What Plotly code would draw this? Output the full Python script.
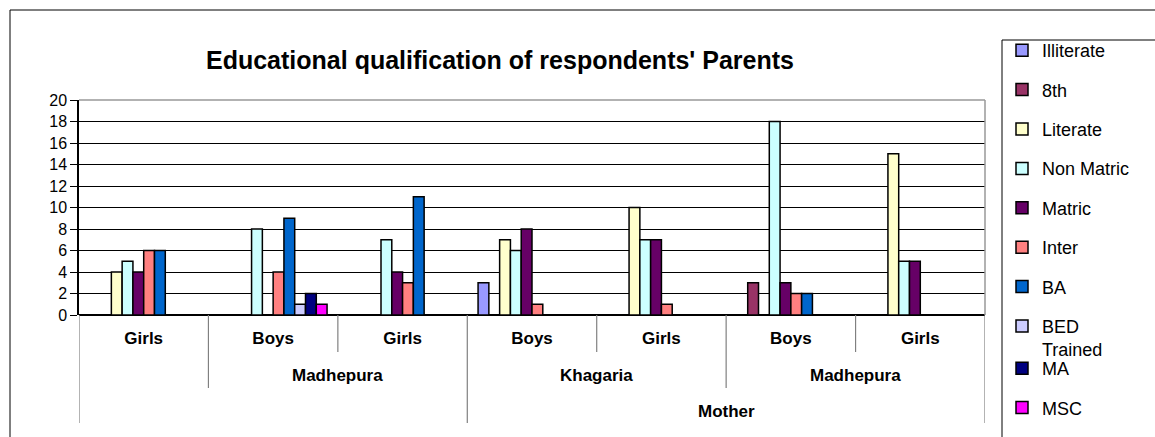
import plotly.graph_objects as go

# category levels (bottom to top)
groups = ["Girls", "Boys", "Girls", "Boys", "Girls", "Boys", "Girls"]
districts = ["Madhepura", "Khagaria", "Madhepura"]
district_spans = [(1, 2), (3, 4), (5, 6)]
parents = ["Mother"]
parent_spans = [(3, 6)]

# values per qualification, one entry per group (None = no bar)
illiterate = [None, None, None, 3, None, None, None]
eighth = [None, None, None, None, None, 3, None]
literate = [4, None, None, 7, 10, None, 15]
non_matric = [5, 8, 7, 6, 7, 18, 5]
matric = [4, None, 4, 8, 7, 3, 5]
inter = [6, 4, 3, 1, 1, 2, None]
ba = [6, 9, 11, None, None, 2, None]
bed_trained = [None, 1, None, None, None, None, None]
ma = [None, 2, None, None, None, None, None]
msc = [None, 1, None, None, None, None, None]

series = [
    ("Illiterate", illiterate, "#9999FF"),
    ("8th", eighth, "#993366"),
    ("Literate", literate, "#FFFFCC"),
    ("Non Matric", non_matric, "#CCFFFF"),
    ("Matric", matric, "#660066"),
    ("Inter", inter, "#FF8080"),
    ("BA", ba, "#0066CC"),
    ("BED<br>Trained", bed_trained, "#CCCCFF"),
    ("MA", ma, "#000080"),
    ("MSC", msc, "#FF00FF"),
]

FONT = "Liberation Sans, Arial, sans-serif"
x = list(range(len(groups)))

fig = go.Figure()
for i, (name, vals, color) in enumerate(series):
    fig.add_trace(go.Bar(
        x=x,
        y=vals,
        name=name,
        legendgroup=name,
        legend="legend" if i < 8 else "legend2",
        marker=dict(color=color, line=dict(color="black", width=1.5)),
    ))

# px -> paper helpers (plot area: x 79..985, y 100..315)
L, R, T, B = 79, 985, 100, 315


def px_x(p):
    return (p - L) / (R - L)


def px_y(p):
    return (B - p) / (B - T)


shapes = []
# outer chart border and legend box
shapes.append(dict(type="rect", xref="paper", yref="paper",
                   x0=px_x(10), x1=px_x(1170), y0=px_y(450), y1=px_y(10),
                   line=dict(color="black", width=1)))
shapes.append(dict(type="rect", xref="paper", yref="paper",
                   x0=px_x(1002), x1=px_x(1170), y0=px_y(450), y1=px_y(40),
                   line=dict(color="black", width=1)))
# plot area border top / right
shapes.append(dict(type="line", xref="paper", yref="paper", x0=0, x1=1, y0=1, y1=1,
                   line=dict(color="#999999", width=1.5)))
shapes.append(dict(type="line", xref="paper", yref="paper", x0=1, x1=1, y0=0, y1=1,
                   line=dict(color="#999999", width=1.5)))

# category dividers below the axis
level_depth = {1: px_y(352), 2: px_y(388), 3: px_y(423)}
dividers = {-0.5: 3, 0.5: 2, 1.5: 1, 2.5: 3, 3.5: 1, 4.5: 2, 5.5: 1, 6.5: 3}
for pos, lvl in dividers.items():
    shapes.append(dict(type="line", xref="x", yref="paper", x0=pos, x1=pos,
                       y0=0, y1=level_depth[lvl],
                       line=dict(color="#808080", width=1.2)))

annotations = []
for name, (a, b) in zip(districts, district_spans):
    annotations.append(dict(text=name, x=(a + b) / 2, xref="x", y=px_y(375), yref="paper",
                            yanchor="middle", showarrow=False,
                            font=dict(size=17, family=FONT, weight="bold")))
for name, (a, b) in zip(parents, parent_spans):
    annotations.append(dict(text=name, x=(a + b) / 2, xref="x", y=px_y(411), yref="paper",
                            yanchor="middle", showarrow=False,
                            font=dict(size=17, family=FONT, weight="bold")))

legend_style = dict(
    xanchor="left", yanchor="top",
    font=dict(size=18, family=FONT),
    tracegroupgap=13,
    valign="top",
    bgcolor="rgba(0,0,0,0)",
    maxheight=437,
)

fig.update_layout(
    width=1155,
    height=437,
    margin=dict(l=L, r=1155 - R, t=T, b=437 - B, autoexpand=False),
    paper_bgcolor="white",
    plot_bgcolor="white",
    font=dict(family=FONT, color="black"),
    barmode="group",
    bargap=2 / 12,
    bargroupgap=0,
    title=dict(
        text="Educational qualification of respondents' Parents",
        font=dict(size=25, family=FONT, weight="bold", color="black"),
        x=px_x(500), xref="paper", xanchor="center",
        y=1 - 60 / 437, yref="container", yanchor="middle",
    ),
    xaxis=dict(
        range=[-0.5, 6.5],
        tickvals=x,
        ticktext=groups,
        tickfont=dict(size=17, family=FONT, weight="bold"),
        ticks="",
        ticklabelstandoff=11,
        showgrid=False,
        zeroline=False,
        showline=False,
        fixedrange=True,
    ),
    yaxis=dict(
        range=[0, 20],
        dtick=2,
        tickfont=dict(size=16, family=FONT),
        ticks="outside",
        ticklen=7,
        tickcolor="black",
        showgrid=True,
        gridcolor="black",
        gridwidth=1,
        zeroline=True,
        zerolinecolor="black",
        zerolinewidth=1.5,
        showline=True,
        linecolor="black",
        linewidth=1.5,
        fixedrange=True,
    ),
    legend=dict(x=px_x(1002), y=px_y(32), **legend_style),
    legend2=dict(x=px_x(1002), y=px_y(350), **legend_style),
    shapes=shapes,
    annotations=annotations,
)

fig.write_html("out.html", config={"displayModeBar": False},
               post_script="document.body.style.margin = '0';")
